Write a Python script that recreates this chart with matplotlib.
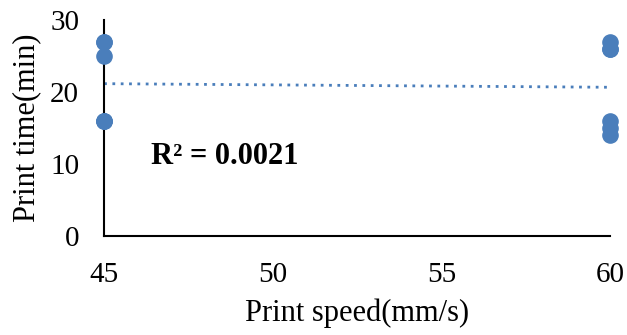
import numpy as np
import matplotlib
matplotlib.use('Agg')
import matplotlib.pyplot as plt

# Data (duplicates overlap on the plot)
speed = [45, 45, 45, 45, 45, 45, 60, 60, 60, 60, 60, 60]
time_min = [27, 27, 25, 16, 16, 16, 27, 26, 26, 16, 15, 14]
r2_label = 'R² = 0.0021'
xticks = [45, 50, 55, 60]
yticks = [0, 10, 20, 30]

plt.rcParams['font.family'] = ['Liberation Serif', 'DejaVu Serif']

fig = plt.figure(figsize=(6.27, 3.35), dpi=100)
ax = fig.add_axes([0.166, 0.2955, 0.807, 0.6445])

color = '#4a7ebb'
ax.scatter(speed, time_min, s=120, color=color, zorder=3, clip_on=False)

# linear trend line
k, b = np.polyfit(speed, time_min, 1)
xs = np.array([45, 60])
ax.plot(xs, k * xs + b, linestyle=(0, (1, 2)), color=color, lw=2)

ax.text(46.4, 11, r2_label, fontsize=22, fontweight='bold', va='center')

ax.set_xlim(45, 60)
ax.set_ylim(0, 30)
ax.set_xticks(xticks)
ax.set_yticks(yticks)
ax.tick_params(length=0, labelsize=21)
ax.tick_params(axis='x', pad=19)
ax.tick_params(axis='y', pad=18)
for s in ['top', 'right']:
    ax.spines[s].set_visible(False)
for s in ['left', 'bottom']:
    ax.spines[s].set_linewidth(1.5)

ax.set_xlabel('Print speed(mm/s)', fontsize=22, labelpad=7)
ax.set_ylabel('Print time(min)', fontsize=22, labelpad=6)

fig.savefig('out.png', dpi=100)
